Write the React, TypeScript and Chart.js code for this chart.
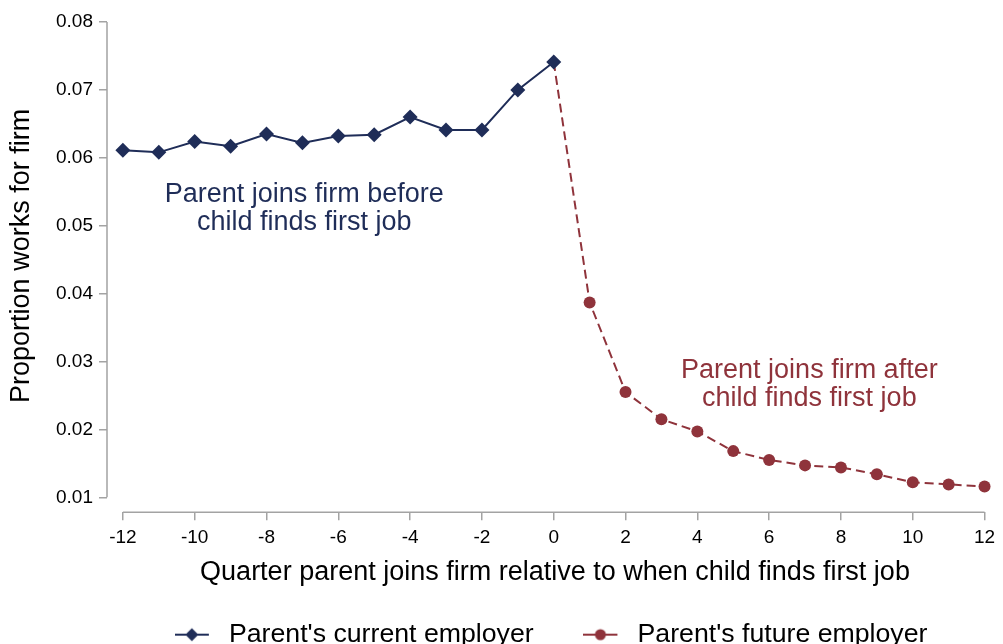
import React, { useEffect, useRef } from "react";
import { Chart, registerables } from "chart.js";

Chart.register(...registerables);

// ---- data ----
const currentQuarters = [-12, -11, -10, -9, -8, -7, -6, -5, -4, -3, -2, -1, 0];
const currentValues = [0.0611, 0.0608, 0.0624, 0.0617, 0.0635, 0.0622, 0.0632, 0.0634, 0.066, 0.0641, 0.0641, 0.07, 0.0741];
const futureQuarters = [0, 1, 2, 3, 4, 5, 6, 7, 8, 9, 10, 11, 12];
const futureValues = [0.0741, 0.0387, 0.0255, 0.0215, 0.0197, 0.0168, 0.0155, 0.0147, 0.0144, 0.0134, 0.0122, 0.0119, 0.0116];
const xTickValues = [-12, -10, -8, -6, -4, -2, 0, 2, 4, 6, 8, 10, 12];
const yTickValues = [0.01, 0.02, 0.03, 0.04, 0.05, 0.06, 0.07, 0.08];
const seriesLabels = ["Parent's current employer", "Parent's future employer"];
const xTitle = "Quarter parent joins firm relative to when child finds first job";
const yTitle = "Proportion works for firm";
const annotationBefore = ["Parent joins firm before", "child finds first job"];
const annotationAfter = ["Parent joins firm after", "child finds first job"];

// ---- styles ----
const FONT = "'Liberation Sans', Arial, Helvetica, sans-serif";
const NAVY = "#1f2d58";
const RED = "#8f333b";
const AXIS = "#a3a3a3";
const W = 1003;
const H = 658;
const BIG = 27;
const LEGEND_FONT = 26.7;
const SMALL = 19;

function makeLegendIcon(kind: "diamond" | "circle", color: string): HTMLCanvasElement {
  const c = document.createElement("canvas");
  c.width = 41;
  c.height = 16;
  const g = c.getContext("2d")!;
  const x0 = 0;
  const x1 = 34;
  g.strokeStyle = color;
  g.lineWidth = 2;
  g.beginPath();
  g.moveTo(x0, 8);
  g.lineTo(x1, 8);
  g.stroke();
  g.fillStyle = color;
  const cx = (x0 + x1) / 2;
  g.beginPath();
  if (kind === "diamond") {
    g.moveTo(cx, 1.5);
    g.lineTo(cx + 6.5, 8);
    g.lineTo(cx, 14.5);
    g.lineTo(cx - 6.5, 8);
    g.closePath();
  } else {
    g.arc(cx, 8, 5.5, 0, Math.PI * 2);
  }
  g.fill();
  return c;
}

const axisLinesPlugin = {
  id: "axisLines",
  beforeDatasetsDraw(chart: any) {
    const { ctx, chartArea, scales } = chart;
    const x = scales.x;
    const y = scales.y;
    ctx.save();
    ctx.strokeStyle = AXIS;
    ctx.lineWidth = 1.5;
    ctx.beginPath();
    ctx.moveTo(chartArea.left, y.getPixelForValue(yTickValues[yTickValues.length - 1]));
    ctx.lineTo(chartArea.left, y.getPixelForValue(yTickValues[0]));
    ctx.moveTo(x.getPixelForValue(xTickValues[0]), chartArea.bottom);
    ctx.lineTo(x.getPixelForValue(xTickValues[xTickValues.length - 1]), chartArea.bottom);
    ctx.stroke();
    ctx.restore();
  },
};

const annotationPlugin = {
  id: "annotations",
  afterDatasetsDraw(chart: any) {
    const { ctx, scales } = chart;
    const x = scales.x;
    const y = scales.y;
    ctx.save();
    ctx.font = `${BIG}px ${FONT}`;
    ctx.textAlign = "center";
    ctx.textBaseline = "middle";
    const put = (lines: string[], xv: number, yv: number, color: string) => {
      ctx.fillStyle = color;
      const px = x.getPixelForValue(xv);
      const py = y.getPixelForValue(yv);
      lines.forEach((t, i) => ctx.fillText(t, px, py + i * 28));
    };
    put(annotationBefore, -6.95, 0.0546, NAVY);
    put(annotationAfter, 7.12, 0.0286, RED);
    ctx.restore();
  },
};

export default function App() {
  const ref = useRef<HTMLCanvasElement>(null);
  useEffect(() => {
    if (!ref.current) return;
    const icons = [makeLegendIcon("diamond", NAVY), makeLegendIcon("circle", RED)];
    const chart = new Chart(ref.current, {
      type: "line",
      data: {
        datasets: [
          {
            label: seriesLabels[0],
            data: currentQuarters.map((q, i) => ({ x: q, y: currentValues[i] })),
            borderColor: NAVY,
            backgroundColor: NAVY,
            borderWidth: 2,
            pointStyle: "rectRot",
            pointRadius: 7.5,
            pointBorderWidth: 0,
            pointBackgroundColor: NAVY,
            tension: 0,
          },
          {
            label: seriesLabels[1],
            data: futureQuarters.map((q, i) => ({ x: q, y: futureValues[i] })),
            borderColor: RED,
            backgroundColor: RED,
            borderWidth: 2,
            borderDash: [9, 5],
            pointStyle: "circle",
            pointRadius: futureQuarters.map((_, i) => (i === 0 ? 0 : 6)),
            pointBorderWidth: 0,
            pointBackgroundColor: RED,
            tension: 0,
          },
        ],
      },
      options: {
        animation: false,
        responsive: false,
        layout: { padding: { top: 22, right: 3, left: 0, bottom: 0 } },
        plugins: {
          tooltip: { enabled: false },
          legend: {
            display: true,
            position: "bottom",
            fullSize: false,
            labels: {
              usePointStyle: true,
              pointStyleWidth: 40.5,
              padding: 50,
              color: "#000",
              font: { family: FONT, size: LEGEND_FONT },
              generateLabels: () =>
                seriesLabels.map((t, i) => ({
                  text: t,
                  pointStyle: icons[i],
                  fillStyle: i === 0 ? NAVY : RED,
                  strokeStyle: i === 0 ? NAVY : RED,
                  lineWidth: 0,
                  hidden: false,
                  datasetIndex: i,
                })),
            },
          },
        },
        scales: {
          x: {
            type: "linear",
            min: -12.443,
            max: 12.305,
            afterBuildTicks: (s: any) => {
              s.ticks = xTickValues.map((v) => ({ value: v }));
            },
            afterFit: (s: any) => {
              s.height = 59;
            },
            grid: { drawOnChartArea: false, drawTicks: true, tickLength: 8, color: AXIS, lineWidth: 1.5 },
            border: { display: false },
            ticks: {
              autoSkip: false,
              maxRotation: 0,
              padding: 6,
              color: "#000",
              font: { family: FONT, size: SMALL },
              callback: (v: any) => String(v),
            },
            title: {
              display: true,
              text: " " + xTitle,
              color: "#000",
              font: { family: FONT, size: BIG },
              padding: { top: 0, bottom: -17 },
            },
          },
          y: {
            type: "linear",
            min: 0.00779,
            max: 0.08,
            afterBuildTicks: (s: any) => {
              s.ticks = yTickValues.map((v) => ({ value: v }));
            },
            afterFit: (s: any) => {
              s.width = 107;
            },
            grid: { drawOnChartArea: false, drawTicks: true, tickLength: 8, color: AXIS, lineWidth: 1.5 },
            border: { display: false },
            ticks: {
              padding: 6,
              color: "#000",
              font: { family: FONT, size: SMALL },
              callback: (v: any) => Number(v).toFixed(2),
            },
            title: {
              display: true,
              text: "   " + yTitle,
              color: "#000",
              font: { family: FONT, size: BIG },
              padding: { top: 5, bottom: 0 },
            },
          },
        },
      },
      plugins: [axisLinesPlugin, annotationPlugin],
    } as any);
    return () => chart.destroy();
  }, []);
  return (
    <div style={{ position: "fixed", left: 0, top: 0, width: W, height: H, background: "#fff" }}>
      <canvas ref={ref} width={W} height={H} style={{ display: "block", width: W, height: H }} />
    </div>
  );
}
